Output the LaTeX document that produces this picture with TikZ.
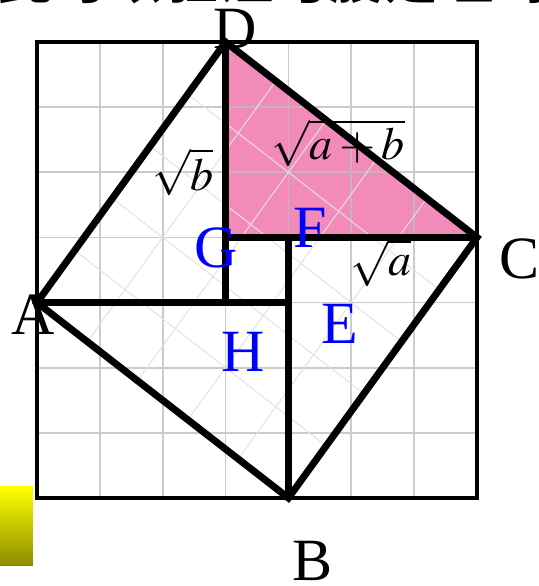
\documentclass[tikz,border=0pt]{standalone}
\usepackage{mathptmx}
\usepackage[no-math]{fontspec}
\setmainfont{Liberation Serif}
\newfontfamily\cjk{Noto Sans CJK SC}
\usetikzlibrary{calc}
\definecolor{pinkfill}{RGB}{243,139,186}
\definecolor{gridgray}{RGB}{190,190,190}
\definecolor{faintgray}{RGB}{225,225,225}
\definecolor{labelblue}{RGB}{0,0,255}
\tikzset{
  thickline/.style={line width=7pt, line join=miter},
  ptlabel/.style={font=\fontsize{60}{60}\selectfont, inner sep=0pt},
  bluelabel/.style={ptlabel, text=labelblue},
  sqlabel/.style={font=\fontsize{46}{46}\selectfont, inner sep=0pt}
}

\begin{document}
\begin{tikzpicture}[x=62.857pt, y=65.143pt]
  \useasboundingbox (-0.5886,-1.3509) rectangle (7.9864,7.6447);
  % title line, cut by the top edge
  \node[anchor=base west, inner sep=0pt, font=\cjk\bfseries\fontsize{55}{55}\selectfont]
    (title) at (-0.62,7.66) {此可以验证勾股定理吗};
  % corners of the tilted square and of the small square
  \coordinate (A) at (0,3);
  \coordinate (B) at (4,0);
  \coordinate (C) at (7,4);
  \coordinate (D) at (3,7);
  \coordinate (pG) at (3,4);
  \coordinate (pF) at (4,4);
  \coordinate (pE) at (4,3);
  \coordinate (pH) at (3,3);
  \fill[pinkfill] (D) -- (pG) -- (C) -- cycle;
  \draw[gridgray, line width=1.8pt, opacity=0.8, step=1] (0,0) grid (7,7);
  \foreach \i in {1,...,4} {
    \draw[faintgray, line width=1pt] ($(A)!\i/5!(B)$) -- ($(D)!\i/5!(C)$);
    \draw[faintgray, line width=1pt] ($(A)!\i/5!(D)$) -- ($(B)!\i/5!(C)$);
  }
  \draw[line width=4.5pt] (0,0) rectangle (7,7);
  \draw[thickline] (A) -- (D) -- (C) -- (B) -- cycle;
  \draw[thickline] (D) -- (pH);
  \draw[thickline] (A) -- (pE);
  \draw[thickline] (B) -- (pF);
  \draw[thickline] (C) -- (pG);
  % yellow bar
  \shade[top color=yellow, bottom color=yellow!55!black]
    (-0.5886,0.169) rectangle (-0.064,-1.029);
  \node[ptlabel] (labD) at (3.15,7.20) {D};
  \node[ptlabel] (labC) at (7.68,3.67) {C};
  \node[ptlabel] (labA) at (-0.06,2.82) {A};
  \node[ptlabel] (labB) at (4.39,-0.96) {B};
  \node[bluelabel] (labG) at (2.85,3.84) {G};
  \node[bluelabel] (labF) at (4.34,4.14) {F};
  \node[bluelabel] (labH) at (3.28,2.24) {H};
  \node[bluelabel] (labE) at (4.82,2.67) {E};
  \node[sqlabel] (sqb) at (2.32,5.00) {$\sqrt{b}$};
  \node[sqlabel] (sqab) at (4.79,5.45) {$\sqrt{a+b}$};
  \node[sqlabel] (sqa) at (5.47,3.61) {$\sqrt{a}$};
\end{tikzpicture}
\end{document}
